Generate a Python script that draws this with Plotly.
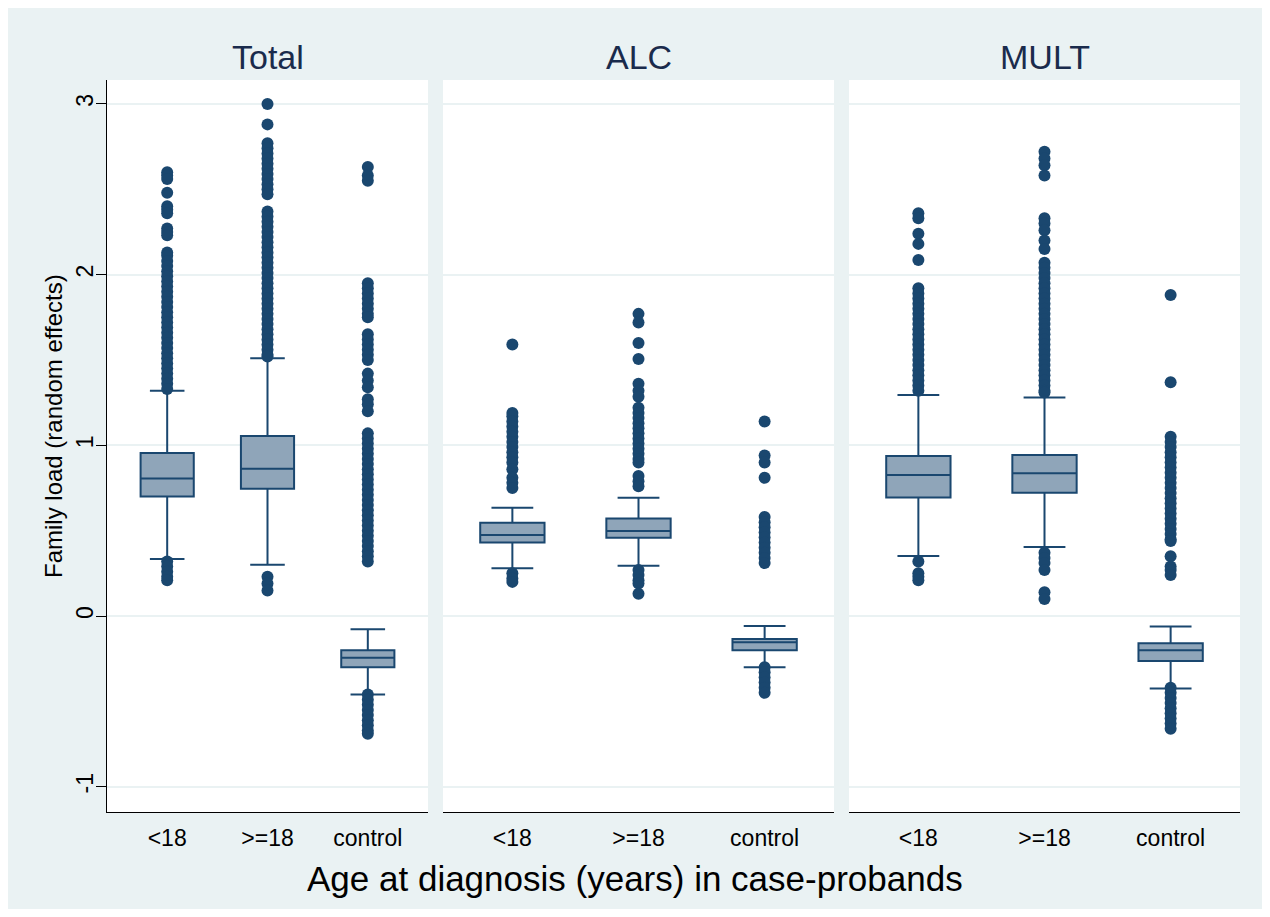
import plotly.graph_objects as go

# ---------------- data ----------------
panels = ["Total", "ALC", "MULT"]
categories = ["<18", ">=18", "control"]

# box statistics per panel: [<18, >=18, control]
lower_whisker = {
    "Total": [0.334, 0.30, -0.46],
    "ALC":   [0.28, 0.295, -0.30],
    "MULT":  [0.351, 0.404, -0.424],
}
q1_vals = {
    "Total": [0.70, 0.746, -0.30],
    "ALC":   [0.43, 0.459, -0.20],
    "MULT":  [0.695, 0.722, -0.264],
}
median_vals = {
    "Total": [0.805, 0.863, -0.244],
    "ALC":   [0.475, 0.498, -0.154],
    "MULT":  [0.826, 0.836, -0.20],
}
q3_vals = {
    "Total": [0.955, 1.055, -0.20],
    "ALC":   [0.547, 0.572, -0.135],
    "MULT":  [0.937, 0.943, -0.16],
}
upper_whisker = {
    "Total": [1.32, 1.51, -0.078],
    "ALC":   [0.635, 0.693, -0.059],
    "MULT":  [1.295, 1.28, -0.062],
}

# outside values
total_lt18 = [2.60, 2.58, 2.56, 2.48, 2.40, 2.38, 2.36, 2.27, 2.25, 2.23, 2.13, 2.11,
              2.08, 2.05, 2.02, 1.99, 1.96, 1.93, 1.90, 1.87, 1.84, 1.81, 1.78, 1.75,
              1.72, 1.69, 1.66, 1.63, 1.60, 1.57, 1.54, 1.51, 1.48, 1.45, 1.42, 1.39,
              1.36, 1.33, 0.32, 0.29, 0.26, 0.23, 0.21]
total_ge18 = [3.00, 2.88, 2.77, 2.74, 2.71, 2.68, 2.65, 2.62, 2.59, 2.56, 2.53, 2.50,
              2.47, 2.37, 2.34, 2.31, 2.28, 2.25, 2.22, 2.19, 2.16, 2.13, 2.10, 2.07,
              2.04, 2.01, 1.98, 1.95, 1.92, 1.89, 1.86, 1.83, 1.80, 1.77, 1.74, 1.71,
              1.68, 1.65, 1.62, 1.59, 1.56, 1.53, 1.52, 0.23, 0.19, 0.15]
total_ctrl = [2.63, 2.58, 2.55, 1.95, 1.92, 1.89, 1.86, 1.83, 1.80, 1.77, 1.75, 1.65,
              1.62, 1.59, 1.56, 1.53, 1.50, 1.42, 1.38, 1.34, 1.27, 1.24, 1.20, 1.07,
              1.04, 1.01, 0.98, 0.95, 0.92, 0.89, 0.86, 0.83, 0.80, 0.77, 0.74, 0.71,
              0.68, 0.65, 0.62, 0.59, 0.56, 0.53, 0.50, 0.47, 0.44, 0.41, 0.38, 0.35,
              0.32, -0.46, -0.49, -0.52, -0.55, -0.58, -0.61, -0.64, -0.67, -0.69]

alc_lt18 = [1.59, 1.19, 1.17, 1.14, 1.11, 1.08, 1.05, 1.02, 0.99, 0.96, 0.93, 0.90,
            0.86, 0.81, 0.78, 0.75, 0.25, 0.22, 0.20]
alc_ge18 = [1.77, 1.72, 1.60, 1.505, 1.36, 1.32, 1.285, 1.22, 1.19, 1.16, 1.13, 1.10,
            1.07, 1.04, 1.01, 0.98, 0.95, 0.92, 0.90, 0.82, 0.79, 0.76,
            0.27, 0.24, 0.21, 0.19, 0.13]
alc_ctrl = [1.14, 0.94, 0.90, 0.81, 0.58, 0.55, 0.52, 0.49, 0.46, 0.43, 0.40, 0.37,
            0.34, 0.31, -0.30, -0.33, -0.36, -0.39, -0.42, -0.45]

mult_lt18 = [2.36, 2.33, 2.24, 2.18, 2.085, 1.92, 1.89, 1.86, 1.83, 1.80, 1.77, 1.74,
             1.71, 1.68, 1.65, 1.62, 1.59, 1.56, 1.53, 1.50, 1.47, 1.44, 1.41, 1.38,
             1.35, 1.32, 0.32, 0.25, 0.23, 0.21]
mult_ge18 = [2.72, 2.68, 2.64, 2.58, 2.33, 2.30, 2.26, 2.20, 2.15, 2.07, 2.04, 2.01,
             1.98, 1.95, 1.92, 1.89, 1.86, 1.83, 1.80, 1.77, 1.74, 1.71, 1.68, 1.65,
             1.62, 1.59, 1.56, 1.53, 1.50, 1.47, 1.44, 1.41, 1.38, 1.35, 1.32, 1.31,
             0.37, 0.34, 0.31, 0.27, 0.14, 0.10]
mult_ctrl = [1.88, 1.37, 1.05, 1.02, 0.99, 0.96, 0.93, 0.90, 0.87, 0.84, 0.81, 0.78,
             0.75, 0.72, 0.69, 0.66, 0.63, 0.60, 0.57, 0.54, 0.51, 0.48, 0.45, 0.44,
             0.35, 0.29, 0.27, 0.24, -0.42, -0.45, -0.48, -0.51, -0.54, -0.57, -0.60,
             -0.63, -0.66]

outliers = {
    "Total": [total_lt18, total_ge18, total_ctrl],
    "ALC":   [alc_lt18, alc_ge18, alc_ctrl],
    "MULT":  [mult_lt18, mult_ge18, mult_ctrl],
}

y_ticks = [-1, 0, 1, 2, 3]
y_ticktext = ["-1", "0", "1", "2", "3"]
x_title = "Age at diagnosis (years) in case-probands"
y_title = "Family load (random effects)"

# ---------------- style ----------------
OFF = 8                       # page body margin (white border)
W, H = 1270 - 2 * OFF, 917 - 2 * OFF
# plot area in screen pixels: x 107..1240, y 80..812
ML, MT = 107 - OFF, 80 - OFF
MR = W - (1240 - OFF)
MB = H - (812 - OFF)
PW, PH = 1240 - 107, 812 - 80
NAVY = "#1A476F"
BOXFILL = "#8FA5B9"
BG = "#EAF2F3"
FONT = "Liberation Sans, Arial, sans-serif"


def px_x(px):
    return (px - 107) / PW


def px_y(py):
    return (812 - py) / PH


domains = [(px_x(107), px_x(428)), (px_x(443), px_x(834)), (px_x(849), px_x(1240))]
xranges = [[-0.6, 2.6], [-0.55, 2.55], [-0.55, 2.55]]
box_widths = [0.53, 0.51, 0.51]
yrange = [-1.148, 3.14]

fig = go.Figure()

for i, p in enumerate(panels):
    xa = "x" if i == 0 else f"x{i+1}"
    ya = "y" if i == 0 else f"y{i+1}"
    fig.add_trace(go.Box(
        x=[0, 1, 2],
        q1=q1_vals[p], median=median_vals[p], q3=q3_vals[p],
        lowerfence=lower_whisker[p], upperfence=upper_whisker[p],
        boxpoints=False, width=box_widths[i], whiskerwidth=0.65,
        fillcolor=BOXFILL, line=dict(color=NAVY, width=2),
        xaxis=xa, yaxis=ya, showlegend=False, hoverinfo="skip",
    ))
    for j, vals in enumerate(outliers[p]):
        fig.add_trace(go.Scatter(
            x=[j] * len(vals), y=vals, mode="markers",
            marker=dict(color=NAVY, size=12, line=dict(width=0)),
            xaxis=xa, yaxis=ya, showlegend=False, hoverinfo="skip",
        ))

layout = dict(
    width=W, height=H,
    margin=dict(l=ML, r=MR, t=MT, b=MB),
    paper_bgcolor=BG, plot_bgcolor="white",
    boxmode="overlay",
    font=dict(family=FONT, color="black"),
    showlegend=False,
)

for i in range(3):
    sx = "" if i == 0 else str(i + 1)
    layout["xaxis" + sx] = dict(
        domain=list(domains[i]), range=xranges[i],
        tickvals=[0, 1, 2], ticktext=categories,
        tickfont=dict(size=23, family=FONT, color="black"),
        ticks="outside", ticklen=5, tickcolor="rgba(0,0,0,0)",
        showline=True, linecolor="black", linewidth=1,
        showgrid=False, zeroline=False, fixedrange=True,
        anchor="y" if i == 0 else "y" + sx,
    )
    ydict = dict(
        domain=[0, 1], range=yrange,
        tickvals=y_ticks, ticktext=y_ticktext,
        showgrid=True, gridcolor=BG, gridwidth=1.5,
        zeroline=False, fixedrange=True,
        anchor="x" if i == 0 else "x" + sx,
    )
    if i == 0:
        ydict.update(
            showline=True, linecolor="black", linewidth=1,
            ticks="outside", ticklen=10, tickcolor="black", tickwidth=1,
            tickangle=-90, tickfont=dict(size=23, family=FONT, color="black"),
            ticklabelstandoff=-6,
        )
    else:
        ydict.update(showticklabels=False, ticks="", showline=False, matches="y")
    layout["yaxis" + sx] = ydict

annotations = []
for i, p in enumerate(panels):
    annotations.append(dict(
        text=p, xref="paper", yref="paper",
        x=(domains[i][0] + domains[i][1]) / 2, y=px_y(57),
        xanchor="center", yanchor="middle", showarrow=False,
        font=dict(size=34, family=FONT, color="#1A2B4C"),
    ))
annotations.append(dict(
    text=x_title, xref="paper", yref="paper",
    x=px_x(635), y=px_y(878), xanchor="center", yanchor="middle",
    showarrow=False, font=dict(size=35, family=FONT, color="black"),
))
annotations.append(dict(
    text=y_title, xref="paper", yref="paper",
    x=px_x(53), y=px_y(426), xanchor="center", yanchor="middle",
    textangle=-90, showarrow=False, font=dict(size=24, family=FONT, color="black"),
))
layout["annotations"] = annotations

fig.update_layout(**layout)
fig.write_html("out.html")
